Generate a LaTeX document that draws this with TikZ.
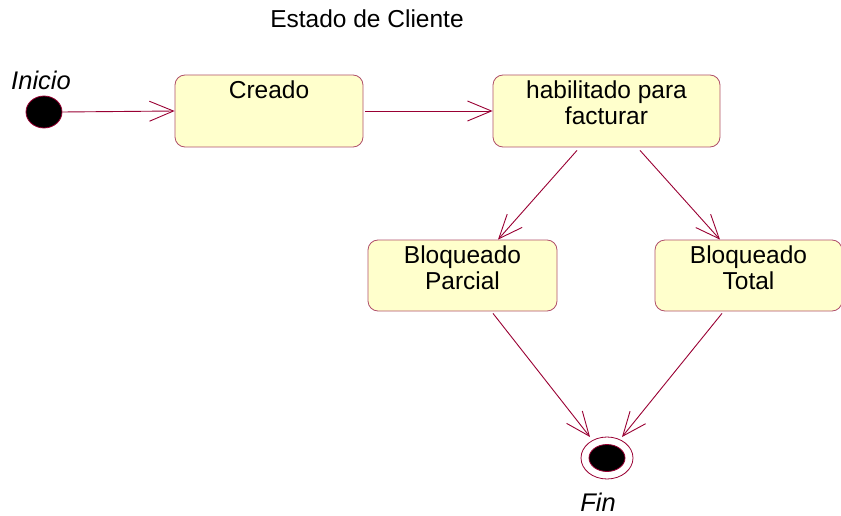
\documentclass[tikz,border=0pt]{standalone}
\usepackage{fontspec}
\setmainfont{Liberation Sans}
\usetikzlibrary{arrows.meta,shapes.geometric,calc}
\definecolor{umlred}{HTML}{990033}
\definecolor{boxfill}{HTML}{FFFFCC}
\definecolor{boxline}{HTML}{B0506A}
\begin{document}
\begin{tikzpicture}[x=1pt,y=-1pt,
  statebox/.style={draw=boxline, fill=boxfill, rounded corners=10pt, line width=0.8pt, inner sep=0pt},
  txt/.style={font=\fontsize{24.5}{26}\selectfont, align=center, anchor=north, inner sep=0pt},
  conn/.style={draw=umlred, line width=0.9pt, -{Straight Barb[length=24pt,width=20pt,line width=0.9pt]}},
  lab/.style={font=\fontsize{25.5}{28}\selectfont\itshape}]
\useasboundingbox (0,0) rectangle (841,516);
\node[font=\fontsize{24.5}{28}\selectfont] (title) at (367,19) {Estado de Cliente};
% initial
\node[ellipse, draw=umlred, fill=black, minimum width=36pt, minimum height=32pt, inner sep=0pt, line width=0.8pt] (ini) at (44,112) {};
\node[lab] (inilab) at (41,80) {Inicio};
% states
\node[statebox, minimum width=188pt, minimum height=72pt] (creado) at (269,111) {};
\node[txt] (creadot) at ([yshift=-6pt]creado.north) {Creado};
\node[statebox, minimum width=227pt, minimum height=72pt] (hab) at (606.5,111) {};
\node[txt] (habt) at ([yshift=-6pt]hab.north) {habilitado para\\facturar};
\node[statebox, minimum width=189pt, minimum height=71pt] (bp) at (462.5,275.5) {};
\node[txt] (bpt) at ([yshift=-6pt]bp.north) {Bloqueado\\Parcial};
\node[statebox, minimum width=187pt, minimum height=71pt] (bt) at (748.5,275.5) {};
\node[txt] (btt) at ([yshift=-6pt]bt.north) {Bloqueado\\Total};
% final
\node[ellipse, draw=umlred, line width=0.8pt, minimum width=52pt, minimum height=42pt, inner sep=0pt] (fin) at (607,458) {};
\node[ellipse, draw=umlred, fill=black, line width=0.8pt, minimum width=36pt, minimum height=27pt, inner sep=0pt] (fincore) at (fin.center) {};
\node[lab] (finlab) at (598,502) {Fin};
% connectors
\draw[conn] (ini.east) -- (creado.west);
\draw[conn] ([xshift=2pt]creado.east) -- (hab.west);
\draw[conn] ([xshift=-29.5pt,yshift=-3pt]hab.south) -- ([xshift=35.5pt]bp.north);
\draw[conn] ([xshift=33.5pt,yshift=-3pt]hab.south) -- ([xshift=-28.5pt]bt.north);
\draw[conn] ([xshift=30.5pt,yshift=-2pt]bp.south) -- ([xshift=-17pt,yshift=21pt]fin.center);
\draw[conn] ([xshift=-26.5pt,yshift=-2pt]bt.south) -- ([xshift=15pt,yshift=21pt]fin.center);
\end{tikzpicture}
\end{document}
